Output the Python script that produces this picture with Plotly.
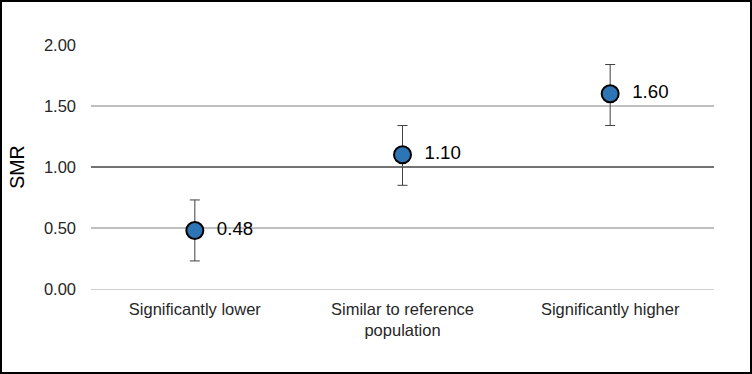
import plotly.graph_objects as go

categories = ["Significantly lower", "Similar to reference<br>population", "Significantly higher"]
smr = [0.48, 1.10, 1.60]
upper = [0.73, 1.34, 1.84]
lower = [0.23, 0.85, 1.34]
labels = ["  0.48", "  1.10", "  1.60"]
tick_vals = [0, 0.5, 1.0, 1.5, 2.0]
tick_text = ["0.00", "0.50", "1.00", "1.50", "2.00"]

W, H = 752, 374
L, R, T, B = 91, 38, 45, 85
pw, ph = W - L - R, H - T - B

fig = go.Figure()
fig.add_trace(go.Scatter(
    x=categories, y=smr, mode="markers+text",
    text=labels, textposition="middle right",
    textfont=dict(family="Liberation Sans, Arial", size=18.7, color="#000000"),
    marker=dict(size=17, color="#2E75B6", line=dict(color="#000000", width=2)),
    error_y=dict(type="data", symmetric=False,
                 array=[u - v for u, v in zip(upper, smr)],
                 arrayminus=[v - l for v, l in zip(smr, lower)],
                 color="#404040", thickness=1, width=5),
    cliponaxis=False, showlegend=False,
))

fig.update_layout(
    width=W, height=H, autosize=False,
    margin=dict(l=L, r=R, t=T, b=B, autoexpand=False),
    paper_bgcolor="white", plot_bgcolor="white",
    font=dict(family="Liberation Sans, Arial", size=16, color="#262626"),
    xaxis=dict(range=[-0.5, 2.5], showgrid=False, showline=False, zeroline=False,
               tickfont=dict(size=16.5, color="#262626"), ticks="",
               ticklabelstandoff=8, automargin=False),
    yaxis=dict(range=[0, 2], tickvals=tick_vals, ticktext=tick_text,
               showgrid=True, gridcolor="#BFBFBF", gridwidth=1.5,
               zeroline=True, zerolinecolor="#D0D0D0", zerolinewidth=1,
               showline=False, ticks="", ticklabelstandoff=14,
               tickfont=dict(size=16.5, color="#262626"), automargin=False,
               title=dict(text="SMR", font=dict(size=19.5, color="#000000"), standoff=14)),
    shapes=[
        dict(type="line", xref="paper", yref="y", x0=0, x1=1, y0=1, y1=1,
             line=dict(color="#595959", width=1.5), layer="above"),
        dict(type="rect", xref="paper", yref="paper",
             x0=(-L + 1) / pw, x1=1 + (R - 1) / pw,
             y0=(-B + 1) / ph, y1=1 + (T - 1) / ph,
             line=dict(color="#000000", width=2)),
    ],
)

fig.write_html("out.html", config={"displayModeBar": False},
               post_script="document.body.style.margin='0';document.body.style.padding='0';")
